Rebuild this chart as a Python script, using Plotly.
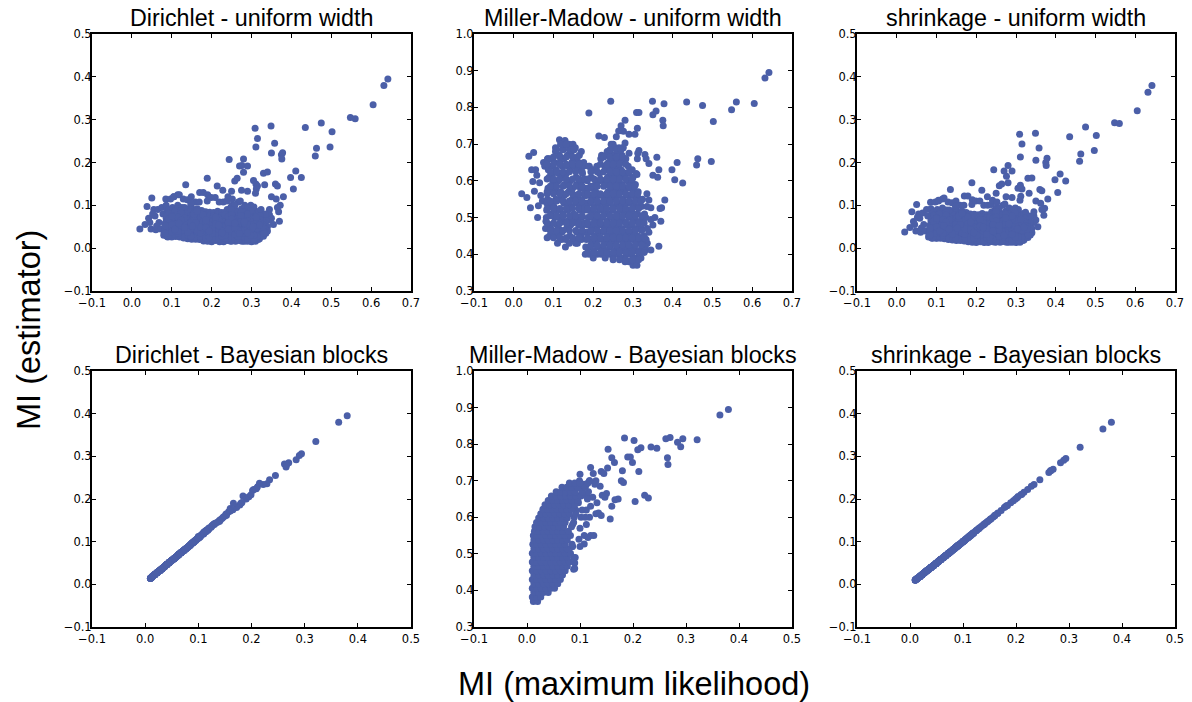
import plotly.graph_objects as go

# ---------------- data: uniform-width binning (top row) ----------------
# sparse points: x = MI (maximum likelihood), then each estimator
x_uw_sparse = [0.642, 0.632, 0.605, 0.548, 0.560, 0.475, 0.502, 0.497, 0.435, 0.463,
               0.460, 0.425, 0.411, 0.405, 0.398, 0.349, 0.309, 0.315, 0.311, 0.358,
               0.350, 0.375, 0.378, 0.376, 0.280, 0.244, 0.270, 0.276, 0.290, 0.280,
               0.330, 0.340, 0.189, 0.258, 0.264, 0.305, 0.311, 0.315, 0.333, 0.360,
               0.365, 0.135, 0.214, 0.228, 0.250, 0.275, 0.290, 0.312, 0.310, 0.350,
               0.380, 0.362, 0.372, 0.368, 0.370, 0.345, 0.190, 0.170, 0.115, 0.105,
               0.020, 0.033, 0.038, 0.042, 0.050, 0.048, 0.055, 0.060, 0.058, 0.065,
               0.068, 0.075, 0.085, 0.088, 0.045, 0.052, 0.062, 0.072, 0.078,
               0.335, 0.340, 0.350, 0.340, 0.365, 0.345, 0.336, 0.355, 0.345]
dir_uw_sparse = [0.395, 0.380, 0.335, 0.305, 0.302, 0.292, 0.272, 0.236, 0.282, 0.233,
                 0.215, 0.165, 0.180, 0.138, 0.165, 0.285, 0.280, 0.256, 0.236, 0.245,
                 0.222, 0.218, 0.223, 0.208, 0.208, 0.207, 0.192, 0.193, 0.192, 0.177,
                 0.175, 0.178, 0.163, 0.157, 0.163, 0.158, 0.150, 0.145, 0.148, 0.150,
                 0.145, 0.148, 0.145, 0.135, 0.133, 0.135, 0.133, 0.138, 0.128, 0.120,
                 0.120, 0.115, 0.100, 0.085, 0.063, 0.078, 0.125, 0.130, 0.125, 0.120,
                 0.045, 0.055, 0.097, 0.070, 0.117, 0.045, 0.090, 0.043, 0.075, 0.090,
                 0.060, 0.095, 0.115, 0.028, 0.060, 0.080, 0.052, 0.045, 0.080,
                 0.060, 0.050, 0.070, 0.040, 0.095, 0.090, 0.035, 0.055, 0.065]
mm_uw_sparse = [0.895, 0.880, 0.811, 0.794, 0.815, 0.805, 0.762, 0.653, 0.815, 0.660,
                0.643, 0.594, 0.650, 0.603, 0.630, 0.817, 0.786, 0.786, 0.743, 0.790,
                0.780, 0.765, 0.810, 0.750, 0.765, 0.817, 0.750, 0.735, 0.727, 0.703,
                0.672, 0.647, 0.785, 0.720, 0.736, 0.727, 0.660, 0.683, 0.660, 0.664,
                0.630, 0.700, 0.722, 0.718, 0.700, 0.690, 0.675, 0.675, 0.617, 0.615,
                0.548, 0.610, 0.527, 0.525, 0.490, 0.495, 0.640, 0.680, 0.712, 0.690,
                0.565, 0.555, 0.667, 0.527, 0.677, 0.598, 0.630, 0.500, 0.615, 0.595,
                0.560, 0.650, 0.660, 0.470, 0.630, 0.572, 0.532, 0.545, 0.640,
                0.565, 0.548, 0.480, 0.460, 0.422, 0.412, 0.430, 0.500, 0.527]
sh_uw_sparse = [0.380, 0.364, 0.321, 0.293, 0.291, 0.283, 0.263, 0.228, 0.260, 0.220,
                0.203, 0.157, 0.173, 0.130, 0.160, 0.268, 0.266, 0.243, 0.213, 0.234,
                0.205, 0.200, 0.210, 0.193, 0.193, 0.183, 0.180, 0.168, 0.180, 0.153,
                0.163, 0.164, 0.153, 0.146, 0.150, 0.140, 0.147, 0.138, 0.128, 0.137,
                0.134, 0.137, 0.135, 0.120, 0.128, 0.120, 0.118, 0.121, 0.112, 0.110,
                0.115, 0.105, 0.093, 0.090, 0.077, 0.075, 0.113, 0.122, 0.115, 0.110,
                0.038, 0.048, 0.085, 0.062, 0.102, 0.040, 0.080, 0.037, 0.070, 0.082,
                0.055, 0.090, 0.107, 0.024, 0.055, 0.072, 0.047, 0.040, 0.075,
                0.055, 0.046, 0.066, 0.036, 0.090, 0.085, 0.031, 0.050, 0.060]

# dense cluster, column by column
x_uw_dense = [
    0.080, 0.083, 0.086, 0.088, 0.082, 0.085, 0.089, 0.081, 0.084, 0.087, 0.083, 0.086,
    0.090, 0.093, 0.096, 0.098, 0.092, 0.095, 0.099, 0.091, 0.094, 0.097, 0.093, 0.096,
    0.100, 0.103, 0.106, 0.108, 0.102, 0.105, 0.109, 0.101, 0.104, 0.107, 0.103, 0.106,
    0.110, 0.113, 0.116, 0.118, 0.112, 0.115, 0.119, 0.111, 0.114, 0.117, 0.113, 0.116,
    0.120, 0.123, 0.126, 0.128, 0.122, 0.125, 0.129, 0.121, 0.124, 0.127, 0.123, 0.126,
    0.130, 0.133, 0.136, 0.138, 0.132, 0.135, 0.139, 0.131, 0.134, 0.137, 0.133, 0.136,
    0.140, 0.143, 0.146, 0.148, 0.142, 0.145, 0.149, 0.141, 0.144, 0.147, 0.143, 0.146,
    0.150, 0.153, 0.156, 0.158, 0.152, 0.155, 0.159, 0.151, 0.154, 0.157, 0.153, 0.156,
    0.160, 0.163, 0.166, 0.168, 0.162, 0.165, 0.169, 0.161, 0.164, 0.167, 0.163, 0.166,
    0.170, 0.173, 0.176, 0.178, 0.172, 0.175, 0.179, 0.171, 0.174, 0.177, 0.173, 0.176,
    0.180, 0.183, 0.186, 0.188, 0.182, 0.185, 0.189, 0.181, 0.184, 0.187, 0.183, 0.186,
    0.190, 0.193, 0.196, 0.198, 0.192, 0.195, 0.199, 0.191, 0.194, 0.197, 0.193, 0.196,
    0.200, 0.203, 0.206, 0.208, 0.202, 0.205, 0.209, 0.201, 0.204, 0.207, 0.203, 0.206,
    0.210, 0.213, 0.216, 0.218, 0.212, 0.215, 0.219, 0.211, 0.214, 0.217, 0.213, 0.216,
    0.220, 0.223, 0.226, 0.228, 0.222, 0.225, 0.229, 0.221, 0.224, 0.227, 0.223, 0.226,
    0.230, 0.233, 0.236, 0.238, 0.232, 0.235, 0.239, 0.231, 0.234, 0.237, 0.233, 0.236, 0.230, 0.238, 0.232, 0.235,
    0.240, 0.243, 0.246, 0.248, 0.242, 0.245, 0.249, 0.241, 0.244, 0.247, 0.243, 0.246, 0.240, 0.248, 0.242, 0.245,
    0.250, 0.253, 0.256, 0.258, 0.252, 0.255, 0.259, 0.251, 0.254, 0.257, 0.253, 0.256, 0.250, 0.258, 0.252, 0.255,
    0.260, 0.263, 0.266, 0.268, 0.262, 0.265, 0.269, 0.261, 0.264, 0.267, 0.263, 0.266, 0.260, 0.268, 0.262, 0.265,
    0.270, 0.273, 0.276, 0.278, 0.272, 0.275, 0.279, 0.271, 0.274, 0.277, 0.273, 0.276, 0.270, 0.278, 0.272, 0.275,
    0.280, 0.283, 0.286, 0.288, 0.282, 0.285, 0.289, 0.281, 0.284, 0.287, 0.283, 0.286, 0.280, 0.288, 0.282, 0.285,
    0.290, 0.293, 0.296, 0.298, 0.292, 0.295, 0.299, 0.291, 0.294, 0.297, 0.293, 0.296, 0.290, 0.298, 0.292, 0.295,
    0.300, 0.303, 0.306, 0.308, 0.302, 0.305, 0.309, 0.301, 0.304, 0.307, 0.303, 0.306, 0.300, 0.308, 0.302, 0.305,
    0.310, 0.313, 0.316, 0.318, 0.312, 0.315, 0.319, 0.311, 0.314, 0.317, 0.313, 0.316,
    0.320, 0.323, 0.326, 0.328, 0.322, 0.325, 0.329, 0.321, 0.324, 0.327,
    0.330, 0.333, 0.336, 0.332, 0.335, 0.331]
mm_uw_dense = [
    0.47, 0.52, 0.58, 0.64, 0.50, 0.55, 0.61, 0.49, 0.57, 0.63, 0.54, 0.66,
    0.45, 0.51, 0.57, 0.62, 0.48, 0.54, 0.60, 0.66, 0.53, 0.59, 0.47, 0.64,
    0.46, 0.50, 0.55, 0.60, 0.65, 0.68, 0.48, 0.53, 0.58, 0.63, 0.52, 0.57,
    0.43, 0.47, 0.52, 0.57, 0.62, 0.67, 0.70, 0.45, 0.50, 0.55, 0.60, 0.65,
    0.44, 0.49, 0.54, 0.59, 0.64, 0.69, 0.71, 0.46, 0.51, 0.56, 0.61, 0.66,
    0.42, 0.47, 0.52, 0.57, 0.62, 0.67, 0.70, 0.44, 0.49, 0.54, 0.59, 0.64,
    0.43, 0.48, 0.53, 0.58, 0.63, 0.68, 0.70, 0.45, 0.50, 0.55, 0.60, 0.65,
    0.44, 0.49, 0.54, 0.59, 0.64, 0.69, 0.46, 0.51, 0.56, 0.61, 0.66, 0.43,
    0.43, 0.48, 0.53, 0.58, 0.63, 0.67, 0.45, 0.50, 0.55, 0.60, 0.65, 0.52,
    0.44, 0.48, 0.52, 0.56, 0.60, 0.64, 0.46, 0.50, 0.54, 0.58, 0.62, 0.65,
    0.40, 0.44, 0.48, 0.52, 0.56, 0.60, 0.64, 0.42, 0.46, 0.50, 0.54, 0.58,
    0.40, 0.44, 0.48, 0.52, 0.56, 0.61, 0.63, 0.42, 0.46, 0.50, 0.54, 0.58,
    0.39, 0.43, 0.47, 0.51, 0.55, 0.59, 0.64, 0.41, 0.45, 0.49, 0.53, 0.57,
    0.40, 0.44, 0.48, 0.52, 0.56, 0.60, 0.66, 0.42, 0.46, 0.50, 0.54, 0.62,
    0.40, 0.44, 0.48, 0.52, 0.56, 0.60, 0.64, 0.67, 0.42, 0.46, 0.50, 0.54,
    0.39, 0.41, 0.43, 0.45, 0.47, 0.49, 0.51, 0.53, 0.55, 0.57, 0.59, 0.61, 0.63, 0.65, 0.67, 0.68,
    0.40, 0.42, 0.44, 0.46, 0.48, 0.50, 0.52, 0.54, 0.56, 0.58, 0.60, 0.62, 0.64, 0.66, 0.68, 0.70,
    0.39, 0.41, 0.43, 0.45, 0.47, 0.49, 0.51, 0.53, 0.55, 0.57, 0.59, 0.61, 0.63, 0.65, 0.67, 0.69,
    0.40, 0.42, 0.44, 0.46, 0.48, 0.50, 0.52, 0.54, 0.56, 0.58, 0.60, 0.62, 0.64, 0.66, 0.68, 0.69,
    0.39, 0.41, 0.43, 0.45, 0.47, 0.49, 0.51, 0.53, 0.55, 0.57, 0.59, 0.61, 0.63, 0.65, 0.67, 0.69,
    0.38, 0.40, 0.42, 0.44, 0.46, 0.48, 0.50, 0.52, 0.54, 0.56, 0.58, 0.60, 0.62, 0.64, 0.66, 0.43,
    0.38, 0.40, 0.42, 0.44, 0.46, 0.48, 0.50, 0.52, 0.54, 0.56, 0.58, 0.60, 0.62, 0.63, 0.41, 0.45,
    0.37, 0.39, 0.41, 0.43, 0.45, 0.47, 0.49, 0.51, 0.53, 0.55, 0.57, 0.59, 0.61, 0.62, 0.38, 0.44,
    0.37, 0.39, 0.41, 0.43, 0.45, 0.47, 0.49, 0.51, 0.53, 0.55, 0.57, 0.40,
    0.39, 0.41, 0.43, 0.45, 0.47, 0.49, 0.51, 0.53, 0.55, 0.44,
    0.41, 0.44, 0.47, 0.50, 0.53, 0.42]
dir_uw_dense = [
    0.030, 0.050, 0.070, 0.090, 0.040, 0.060, 0.080, 0.035, 0.055, 0.075, 0.045, 0.100,
    0.026, 0.042, 0.058, 0.074, 0.090, 0.033, 0.050, 0.066, 0.082, 0.115, 0.038, 0.062,
    0.028, 0.045, 0.062, 0.078, 0.095, 0.120, 0.036, 0.053, 0.070, 0.087, 0.032, 0.058,
    0.027, 0.040, 0.055, 0.070, 0.085, 0.100, 0.125, 0.033, 0.048, 0.063, 0.078, 0.092,
    0.026, 0.038, 0.052, 0.066, 0.080, 0.095, 0.115, 0.031, 0.045, 0.059, 0.073, 0.088,
    0.024, 0.036, 0.050, 0.064, 0.078, 0.092, 0.113, 0.030, 0.043, 0.057, 0.071, 0.085,
    0.022, 0.035, 0.049, 0.063, 0.077, 0.091, 0.120, 0.028, 0.042, 0.056, 0.070, 0.084,
    0.021, 0.034, 0.048, 0.062, 0.076, 0.090, 0.108, 0.027, 0.041, 0.055, 0.069, 0.083,
    0.021, 0.033, 0.047, 0.061, 0.075, 0.089, 0.108, 0.027, 0.040, 0.054, 0.068, 0.082,
    0.020, 0.032, 0.046, 0.060, 0.074, 0.088, 0.130, 0.026, 0.039, 0.053, 0.067, 0.081,
    0.017, 0.029, 0.043, 0.057, 0.071, 0.085, 0.110, 0.023, 0.036, 0.050, 0.064, 0.078,
    0.016, 0.028, 0.042, 0.056, 0.070, 0.084, 0.118, 0.022, 0.035, 0.049, 0.063, 0.077,
    0.015, 0.027, 0.041, 0.055, 0.069, 0.083, 0.118, 0.021, 0.034, 0.048, 0.062, 0.076,
    0.018, 0.030, 0.044, 0.058, 0.072, 0.086, 0.108, 0.024, 0.037, 0.051, 0.065, 0.079,
    0.015, 0.027, 0.041, 0.055, 0.069, 0.083, 0.108, 0.021, 0.034, 0.048, 0.062, 0.076,
    0.015, 0.060, 0.030, 0.075, 0.022, 0.050, 0.090, 0.040, 0.068, 0.018, 0.083, 0.035, 0.056, 0.110, 0.026, 0.046,
    0.020, 0.045, 0.070, 0.016, 0.058, 0.085, 0.032, 0.120, 0.064, 0.027, 0.050, 0.078, 0.038, 0.095, 0.018, 0.042,
    0.017, 0.052, 0.036, 0.080, 0.024, 0.066, 0.044, 0.100, 0.060, 0.020, 0.074, 0.030, 0.090, 0.048, 0.115, 0.028,
    0.016, 0.040, 0.064, 0.028, 0.086, 0.050, 0.020, 0.072, 0.034, 0.108, 0.058, 0.024, 0.046, 0.080, 0.038, 0.068,
    0.018, 0.056, 0.030, 0.074, 0.042, 0.092, 0.022, 0.062, 0.036, 0.080, 0.050, 0.016, 0.070, 0.026, 0.110, 0.046,
    0.020, 0.048, 0.034, 0.072, 0.016, 0.060, 0.088, 0.026, 0.054, 0.040, 0.100, 0.066, 0.030, 0.078, 0.044, 0.018,
    0.016, 0.042, 0.064, 0.028, 0.080, 0.050, 0.022, 0.070, 0.036, 0.092, 0.056, 0.018, 0.046, 0.100, 0.032, 0.060,
    0.015, 0.038, 0.058, 0.024, 0.074, 0.046, 0.086, 0.030, 0.064, 0.018, 0.052, 0.096, 0.034, 0.070, 0.020, 0.042,
    0.016, 0.036, 0.054, 0.072, 0.024, 0.046, 0.086, 0.030, 0.062, 0.020, 0.050, 0.040,
    0.022, 0.040, 0.060, 0.078, 0.030, 0.050, 0.070, 0.026, 0.090, 0.044,
    0.028, 0.046, 0.066, 0.038, 0.080, 0.034]
sh_uw_dense = [
    0.026, 0.045, 0.064, 0.085, 0.036, 0.055, 0.074, 0.031, 0.050, 0.069, 0.041, 0.092,
    0.023, 0.038, 0.053, 0.069, 0.085, 0.030, 0.045, 0.061, 0.077, 0.108, 0.034, 0.057,
    0.024, 0.040, 0.057, 0.073, 0.090, 0.112, 0.032, 0.048, 0.065, 0.082, 0.028, 0.053,
    0.023, 0.036, 0.050, 0.065, 0.080, 0.094, 0.117, 0.029, 0.043, 0.058, 0.073, 0.087,
    0.022, 0.034, 0.047, 0.061, 0.075, 0.089, 0.108, 0.027, 0.040, 0.054, 0.068, 0.083,
    0.020, 0.032, 0.045, 0.059, 0.073, 0.087, 0.106, 0.026, 0.038, 0.052, 0.066, 0.080,
    0.019, 0.031, 0.044, 0.058, 0.072, 0.086, 0.110, 0.024, 0.037, 0.051, 0.065, 0.079,
    0.018, 0.030, 0.043, 0.057, 0.071, 0.085, 0.100, 0.023, 0.036, 0.050, 0.064, 0.078,
    0.018, 0.029, 0.042, 0.056, 0.070, 0.084, 0.100, 0.023, 0.035, 0.049, 0.063, 0.077,
    0.017, 0.028, 0.041, 0.055, 0.069, 0.083, 0.122, 0.022, 0.034, 0.048, 0.062, 0.076,
    0.015, 0.025, 0.038, 0.052, 0.066, 0.080, 0.102, 0.020, 0.031, 0.045, 0.059, 0.073,
    0.014, 0.024, 0.037, 0.051, 0.065, 0.079, 0.110, 0.019, 0.030, 0.044, 0.058, 0.072,
    0.013, 0.023, 0.036, 0.050, 0.064, 0.078, 0.110, 0.018, 0.029, 0.043, 0.057, 0.071,
    0.015, 0.026, 0.039, 0.053, 0.067, 0.081, 0.100, 0.021, 0.032, 0.046, 0.060, 0.074,
    0.013, 0.023, 0.036, 0.050, 0.064, 0.078, 0.100, 0.018, 0.029, 0.043, 0.057, 0.071,
    0.013, 0.055, 0.026, 0.070, 0.019, 0.045, 0.085, 0.036, 0.063, 0.016, 0.078, 0.031, 0.051, 0.102, 0.023, 0.041,
    0.017, 0.040, 0.065, 0.014, 0.053, 0.080, 0.028, 0.112, 0.059, 0.024, 0.045, 0.073, 0.034, 0.090, 0.015, 0.038,
    0.015, 0.047, 0.032, 0.075, 0.021, 0.061, 0.040, 0.094, 0.055, 0.017, 0.069, 0.026, 0.085, 0.043, 0.108, 0.024,
    0.014, 0.036, 0.059, 0.025, 0.081, 0.045, 0.017, 0.067, 0.030, 0.100, 0.053, 0.021, 0.041, 0.075, 0.034, 0.063,
    0.016, 0.051, 0.027, 0.069, 0.038, 0.087, 0.019, 0.057, 0.032, 0.075, 0.045, 0.014, 0.065, 0.023, 0.103, 0.041,
    0.017, 0.043, 0.030, 0.067, 0.014, 0.055, 0.083, 0.023, 0.049, 0.036, 0.094, 0.061, 0.026, 0.073, 0.039, 0.016,
    0.014, 0.038, 0.059, 0.025, 0.075, 0.045, 0.019, 0.065, 0.032, 0.087, 0.051, 0.016, 0.041, 0.094, 0.028, 0.055,
    0.013, 0.034, 0.053, 0.021, 0.069, 0.041, 0.081, 0.026, 0.059, 0.016, 0.047, 0.090, 0.030, 0.065, 0.018, 0.038,
    0.014, 0.032, 0.049, 0.067, 0.021, 0.041, 0.081, 0.026, 0.057, 0.018, 0.045, 0.036,
    0.019, 0.036, 0.055, 0.073, 0.027, 0.045, 0.065, 0.023, 0.084, 0.039,
    0.025, 0.042, 0.061, 0.034, 0.075, 0.030]

# second layer of the cluster, row by row (rows of roughly equal Miller-Madow value)
x_uw_rows = [
    0.084, 0.100, 0.116, 0.132, 0.148, 0.164,
    0.092, 0.108, 0.124, 0.140, 0.156, 0.172,
    0.084, 0.100, 0.116, 0.132, 0.148, 0.164, 0.178,
    0.092, 0.108, 0.124, 0.140, 0.156, 0.172,
    0.084, 0.100, 0.116, 0.132, 0.148, 0.164, 0.178,
    0.092, 0.108, 0.124, 0.140, 0.156, 0.172,
    0.084, 0.100, 0.116, 0.132, 0.148, 0.164, 0.178,
    0.092, 0.108, 0.124, 0.140, 0.156, 0.172,
    0.084, 0.100, 0.116, 0.132, 0.148, 0.164, 0.178,
    0.092, 0.108, 0.124, 0.140, 0.156, 0.172,
    0.084, 0.100, 0.116, 0.132, 0.148, 0.164,
    0.100, 0.116, 0.132, 0.148, 0.160,
    0.108, 0.124, 0.140, 0.152,
    0.118, 0.132,
    0.250, 0.266, 0.282, 0.298, 0.314,
    0.186, 0.202, 0.218, 0.234, 0.250, 0.266, 0.282, 0.298, 0.314, 0.328,
    0.194, 0.210, 0.226, 0.242, 0.258, 0.274, 0.290, 0.306, 0.322,
    0.186, 0.202, 0.218, 0.234, 0.250, 0.266, 0.282, 0.298, 0.314, 0.328,
    0.194, 0.210, 0.226, 0.242, 0.258, 0.274, 0.290, 0.306, 0.322,
    0.186, 0.202, 0.218, 0.234, 0.250, 0.266, 0.282, 0.298, 0.314, 0.328,
    0.194, 0.210, 0.226, 0.242, 0.258, 0.274, 0.290, 0.306, 0.322,
    0.186, 0.202, 0.218, 0.234, 0.250, 0.266, 0.282, 0.298, 0.314,
    0.194, 0.210, 0.226, 0.242, 0.258, 0.274, 0.290, 0.306, 0.320,
    0.186, 0.202, 0.218, 0.234, 0.250, 0.266, 0.282, 0.298, 0.312,
    0.194, 0.210, 0.226, 0.242, 0.258, 0.274, 0.290, 0.304,
    0.186, 0.202, 0.218, 0.234, 0.250, 0.266, 0.282, 0.298,
    0.194, 0.210, 0.226, 0.242, 0.258, 0.274, 0.290,
    0.218, 0.234, 0.250, 0.266, 0.282,
    0.226, 0.242, 0.258, 0.274,
    0.242, 0.258, 0.270]
mm_uw_rows = [
    0.445, 0.445, 0.445, 0.445, 0.445, 0.445,
    0.465, 0.465, 0.465, 0.465, 0.465, 0.465,
    0.485, 0.485, 0.485, 0.485, 0.485, 0.485, 0.485,
    0.505, 0.505, 0.505, 0.505, 0.505, 0.505,
    0.525, 0.525, 0.525, 0.525, 0.525, 0.525, 0.525,
    0.545, 0.545, 0.545, 0.545, 0.545, 0.545,
    0.565, 0.565, 0.565, 0.565, 0.565, 0.565, 0.565,
    0.585, 0.585, 0.585, 0.585, 0.585, 0.585,
    0.605, 0.605, 0.605, 0.605, 0.605, 0.605, 0.605,
    0.625, 0.625, 0.625, 0.625, 0.625, 0.625,
    0.645, 0.645, 0.645, 0.645, 0.645, 0.645,
    0.665, 0.665, 0.665, 0.665, 0.665,
    0.685, 0.685, 0.685, 0.685,
    0.700, 0.700,
    0.385, 0.385, 0.385, 0.385, 0.385,
    0.405, 0.405, 0.405, 0.405, 0.405, 0.405, 0.405, 0.405, 0.405, 0.405,
    0.425, 0.425, 0.425, 0.425, 0.425, 0.425, 0.425, 0.425, 0.425,
    0.445, 0.445, 0.445, 0.445, 0.445, 0.445, 0.445, 0.445, 0.445, 0.445,
    0.465, 0.465, 0.465, 0.465, 0.465, 0.465, 0.465, 0.465, 0.465,
    0.485, 0.485, 0.485, 0.485, 0.485, 0.485, 0.485, 0.485, 0.485, 0.485,
    0.505, 0.505, 0.505, 0.505, 0.505, 0.505, 0.505, 0.505, 0.505,
    0.525, 0.525, 0.525, 0.525, 0.525, 0.525, 0.525, 0.525, 0.525,
    0.545, 0.545, 0.545, 0.545, 0.545, 0.545, 0.545, 0.545, 0.545,
    0.565, 0.565, 0.565, 0.565, 0.565, 0.565, 0.565, 0.565, 0.565,
    0.585, 0.585, 0.585, 0.585, 0.585, 0.585, 0.585, 0.585,
    0.605, 0.605, 0.605, 0.605, 0.605, 0.605, 0.605, 0.605,
    0.625, 0.625, 0.625, 0.625, 0.625, 0.625, 0.625,
    0.645, 0.645, 0.645, 0.645, 0.645,
    0.665, 0.665, 0.665, 0.665,
    0.685, 0.685, 0.685]
dir_uw_rows = [
    0.035, 0.062, 0.048, 0.080, 0.028, 0.055,
    0.042, 0.070, 0.030, 0.090, 0.052, 0.038,
    0.058, 0.026, 0.075, 0.044, 0.100, 0.033, 0.066,
    0.050, 0.085, 0.036, 0.060, 0.024, 0.072,
    0.040, 0.068, 0.029, 0.095, 0.054, 0.046, 0.078,
    0.064, 0.032, 0.088, 0.048, 0.070, 0.027,
    0.045, 0.076, 0.034, 0.058, 0.105, 0.040, 0.062,
    0.030, 0.056, 0.082, 0.043, 0.067, 0.036,
    0.052, 0.038, 0.072, 0.026, 0.060, 0.092, 0.047,
    0.068, 0.041, 0.057, 0.031, 0.080, 0.050,
    0.035, 0.074, 0.049, 0.063, 0.028, 0.086,
    0.055, 0.039, 0.070, 0.046, 0.060,
    0.044, 0.066, 0.037, 0.052,
    0.058, 0.048,
    0.020, 0.045, 0.032, 0.060, 0.026,
    0.018, 0.050, 0.035, 0.072, 0.024, 0.058, 0.040, 0.085, 0.028, 0.064,
    0.046, 0.022, 0.068, 0.036, 0.090, 0.030, 0.055, 0.019, 0.075,
    0.030, 0.062, 0.020, 0.048, 0.080, 0.038, 0.026, 0.070, 0.044, 0.056,
    0.054, 0.034, 0.076, 0.021, 0.060, 0.042, 0.095, 0.028, 0.066,
    0.024, 0.046, 0.070, 0.032, 0.058, 0.019, 0.084, 0.040, 0.064, 0.050,
    0.038, 0.066, 0.026, 0.052, 0.100, 0.034, 0.072, 0.022, 0.058,
    0.060, 0.028, 0.044, 0.078, 0.020, 0.054, 0.036, 0.088, 0.046,
    0.032, 0.070, 0.050, 0.024, 0.062, 0.040, 0.080, 0.030, 0.054,
    0.048, 0.022, 0.064, 0.036, 0.090, 0.028, 0.058, 0.042, 0.072,
    0.026, 0.056, 0.040, 0.074, 0.032, 0.062, 0.020, 0.050,
    0.066, 0.034, 0.052, 0.024, 0.078, 0.044, 0.060, 0.030,
    0.040, 0.072, 0.028, 0.058, 0.046, 0.084, 0.036,
    0.054, 0.030, 0.068, 0.042, 0.062,
    0.036, 0.060, 0.048, 0.076,
    0.044, 0.058, 0.034]
sh_uw_rows = [
    0.031, 0.057, 0.044, 0.075, 0.024, 0.050,
    0.038, 0.065, 0.026, 0.085, 0.047, 0.034,
    0.053, 0.023, 0.070, 0.040, 0.094, 0.029, 0.061,
    0.045, 0.080, 0.032, 0.055, 0.021, 0.067,
    0.036, 0.063, 0.025, 0.089, 0.049, 0.042, 0.073,
    0.059, 0.028, 0.083, 0.044, 0.065, 0.024,
    0.041, 0.071, 0.030, 0.053, 0.098, 0.036, 0.057,
    0.026, 0.051, 0.077, 0.039, 0.062, 0.032,
    0.047, 0.034, 0.067, 0.023, 0.055, 0.087, 0.043,
    0.063, 0.037, 0.052, 0.027, 0.075, 0.045,
    0.031, 0.069, 0.045, 0.058, 0.024, 0.081,
    0.050, 0.035, 0.065, 0.042, 0.055,
    0.040, 0.061, 0.033, 0.047,
    0.053, 0.044,
    0.017, 0.040, 0.028, 0.055, 0.023,
    0.016, 0.045, 0.031, 0.067, 0.021, 0.053, 0.036, 0.080, 0.025, 0.059,
    0.041, 0.019, 0.063, 0.032, 0.085, 0.026, 0.050, 0.016, 0.070,
    0.026, 0.057, 0.017, 0.043, 0.075, 0.034, 0.023, 0.065, 0.040, 0.051,
    0.049, 0.030, 0.071, 0.018, 0.055, 0.038, 0.089, 0.025, 0.061,
    0.021, 0.041, 0.065, 0.028, 0.053, 0.016, 0.079, 0.036, 0.059, 0.045,
    0.034, 0.061, 0.023, 0.047, 0.094, 0.030, 0.067, 0.019, 0.053,
    0.055, 0.025, 0.040, 0.073, 0.017, 0.049, 0.032, 0.083, 0.041,
    0.028, 0.065, 0.045, 0.021, 0.057, 0.036, 0.075, 0.026, 0.049,
    0.043, 0.019, 0.059, 0.032, 0.085, 0.025, 0.053, 0.038, 0.067,
    0.023, 0.051, 0.036, 0.069, 0.028, 0.057, 0.017, 0.045,
    0.061, 0.030, 0.047, 0.021, 0.073, 0.040, 0.055, 0.026,
    0.036, 0.067, 0.025, 0.053, 0.042, 0.079, 0.032,
    0.049, 0.026, 0.063, 0.038, 0.057,
    0.032, 0.055, 0.043, 0.071,
    0.040, 0.053, 0.030]

# ---------------- data: Bayesian-blocks binning (bottom row) ----------------
x_bb_sparse = [0.380, 0.364, 0.321, 0.294, 0.290, 0.284, 0.270, 0.262, 0.265, 0.266,
               0.245, 0.234, 0.229, 0.222, 0.204, 0.211, 0.215, 0.209, 0.202, 0.184,
               0.190, 0.195, 0.199, 0.180, 0.178, 0.182, 0.172, 0.166, 0.160, 0.157,
               0.165, 0.160, 0.153, 0.152, 0.140, 0.145, 0.120, 0.130, 0.138, 0.142,
               0.150, 0.147, 0.125, 0.120, 0.126, 0.115, 0.108, 0.130, 0.140, 0.135,
               0.100, 0.088, 0.086, 0.091, 0.090, 0.118, 0.128, 0.110, 0.105, 0.113,
               0.124, 0.132, 0.118, 0.112, 0.100,
               0.090, 0.088, 0.085, 0.086, 0.089, 0.092, 0.087, 0.090, 0.093, 0.095,
               0.098, 0.100, 0.102, 0.104, 0.097, 0.101, 0.103, 0.099, 0.106,
               0.108, 0.110, 0.112, 0.114, 0.116, 0.112, 0.118, 0.120]
dir_bb_sparse = [0.395, 0.380, 0.335, 0.306, 0.302, 0.292, 0.285, 0.282, 0.275, 0.280,
                 0.255, 0.245, 0.236, 0.234, 0.222, 0.228, 0.237, 0.224, 0.220, 0.207,
                 0.200, 0.205, 0.210, 0.190, 0.186, 0.192, 0.180, 0.190, 0.178, 0.170,
                 0.175, 0.172, 0.162, 0.165, 0.150, 0.155, 0.132, 0.142, 0.147, 0.152,
                 0.160, 0.158, 0.136, 0.130, 0.138, 0.127, 0.118, 0.140, 0.148, 0.145,
                 0.112, 0.096, 0.094, 0.100, 0.098, 0.128, 0.140, 0.122, 0.115, 0.124,
                 0.134, 0.143, 0.127, 0.124, 0.110,
                 0.098, 0.096, 0.093, 0.094, 0.097, 0.100, 0.095, 0.098, 0.102, 0.104,
                 0.107, 0.109, 0.111, 0.113, 0.106, 0.110, 0.112, 0.108, 0.116,
                 0.118, 0.120, 0.122, 0.125, 0.127, 0.122, 0.129, 0.131]
mm_bb_sparse = [0.895, 0.880, 0.812, 0.815, 0.793, 0.805, 0.818, 0.815, 0.763, 0.744,
                0.789, 0.792, 0.653, 0.660, 0.643, 0.725, 0.790, 0.785, 0.810, 0.817,
                0.765, 0.765, 0.750, 0.727, 0.700, 0.695, 0.650, 0.648, 0.630, 0.595,
                0.750, 0.763, 0.786, 0.735, 0.725, 0.720, 0.736, 0.700, 0.685, 0.660,
                0.665, 0.655, 0.720, 0.550, 0.550, 0.545, 0.527, 0.610, 0.605, 0.612,
                0.718, 0.458, 0.520, 0.490, 0.475, 0.700, 0.690, 0.690, 0.680, 0.660,
                0.655, 0.640, 0.600, 0.580, 0.520,
                0.46, 0.49, 0.52, 0.58, 0.60, 0.62, 0.64, 0.66, 0.68, 0.69,
                0.54, 0.57, 0.60, 0.62, 0.64, 0.66, 0.68, 0.70, 0.69,
                0.55, 0.60, 0.62, 0.65, 0.67, 0.69, 0.70, 0.63]
sh_bb_sparse = [0.380, 0.364, 0.321, 0.295, 0.291, 0.285, 0.270, 0.262, 0.266, 0.267,
                0.245, 0.234, 0.230, 0.222, 0.206, 0.211, 0.216, 0.210, 0.203, 0.185,
                0.191, 0.196, 0.200, 0.182, 0.180, 0.184, 0.173, 0.167, 0.161, 0.158,
                0.166, 0.162, 0.154, 0.153, 0.141, 0.146, 0.121, 0.131, 0.139, 0.143,
                0.151, 0.148, 0.126, 0.121, 0.127, 0.116, 0.109, 0.131, 0.141, 0.136,
                0.101, 0.089, 0.087, 0.092, 0.091, 0.119, 0.129, 0.111, 0.106, 0.114,
                0.125, 0.133, 0.119, 0.113, 0.101,
                0.090, 0.088, 0.085, 0.086, 0.089, 0.092, 0.087, 0.090, 0.093, 0.095,
                0.098, 0.100, 0.102, 0.104, 0.097, 0.101, 0.103, 0.099, 0.106,
                0.108, 0.110, 0.112, 0.114, 0.116, 0.112, 0.118, 0.120]

# dense cluster of the Bayesian-blocks row, row by row (rows of roughly equal Miller-Madow value)
x_bb_rows = [
    0.012, 0.020,
    0.010, 0.018, 0.026,
    0.013, 0.022, 0.031, 0.040,
    0.010, 0.018, 0.027, 0.036, 0.045, 0.052,
    0.013, 0.022, 0.031, 0.040, 0.049, 0.058,
    0.010, 0.018, 0.027, 0.036, 0.045, 0.054, 0.063,
    0.013, 0.022, 0.031, 0.040, 0.049, 0.058, 0.067,
    0.010, 0.018, 0.027, 0.036, 0.045, 0.054, 0.063, 0.072,
    0.013, 0.022, 0.031, 0.040, 0.049, 0.058, 0.067, 0.076,
    0.010, 0.018, 0.027, 0.036, 0.045, 0.054, 0.063, 0.072, 0.080,
    0.013, 0.022, 0.031, 0.040, 0.049, 0.058, 0.067, 0.076,
    0.010, 0.018, 0.027, 0.036, 0.045, 0.054, 0.063, 0.072, 0.082,
    0.013, 0.022, 0.031, 0.040, 0.049, 0.058, 0.067, 0.076,
    0.011, 0.018, 0.027, 0.036, 0.045, 0.054, 0.063, 0.072, 0.085,
    0.013, 0.022, 0.031, 0.040, 0.049, 0.058, 0.067, 0.076,
    0.012, 0.018, 0.027, 0.036, 0.045, 0.054, 0.063, 0.072, 0.082,
    0.014, 0.022, 0.031, 0.040, 0.049, 0.058, 0.067, 0.078,
    0.015, 0.024, 0.033, 0.042, 0.051, 0.060, 0.069, 0.084,
    0.018, 0.027, 0.036, 0.045, 0.054, 0.063, 0.072, 0.088,
    0.022, 0.031, 0.040, 0.049, 0.058, 0.067, 0.076,
    0.026, 0.035, 0.044, 0.053, 0.062, 0.071, 0.080, 0.092,
    0.030, 0.039, 0.048, 0.057, 0.066, 0.075, 0.084,
    0.034, 0.043, 0.052, 0.061, 0.070, 0.079, 0.090,
    0.040, 0.049, 0.058, 0.067, 0.076, 0.085, 0.096,
    0.046, 0.055, 0.064, 0.073, 0.082, 0.092, 0.102,
    0.055, 0.064, 0.073, 0.082, 0.091, 0.104,
    0.066, 0.075, 0.084, 0.095, 0.110,
    0.080, 0.090, 0.100, 0.115]
mm_bb_rows = [
    0.370, 0.370,
    0.382, 0.382, 0.382,
    0.394, 0.394, 0.394, 0.394,
    0.406, 0.406, 0.406, 0.406, 0.406, 0.406,
    0.418, 0.418, 0.418, 0.418, 0.418, 0.418,
    0.430, 0.430, 0.430, 0.430, 0.430, 0.430, 0.430,
    0.442, 0.442, 0.442, 0.442, 0.442, 0.442, 0.442,
    0.454, 0.454, 0.454, 0.454, 0.454, 0.454, 0.454, 0.454,
    0.466, 0.466, 0.466, 0.466, 0.466, 0.466, 0.466, 0.466,
    0.478, 0.478, 0.478, 0.478, 0.478, 0.478, 0.478, 0.478, 0.478,
    0.490, 0.490, 0.490, 0.490, 0.490, 0.490, 0.490, 0.490,
    0.502, 0.502, 0.502, 0.502, 0.502, 0.502, 0.502, 0.502, 0.502,
    0.514, 0.514, 0.514, 0.514, 0.514, 0.514, 0.514, 0.514,
    0.526, 0.526, 0.526, 0.526, 0.526, 0.526, 0.526, 0.526, 0.526,
    0.538, 0.538, 0.538, 0.538, 0.538, 0.538, 0.538, 0.538,
    0.550, 0.550, 0.550, 0.550, 0.550, 0.550, 0.550, 0.550, 0.550,
    0.562, 0.562, 0.562, 0.562, 0.562, 0.562, 0.562, 0.562,
    0.574, 0.574, 0.574, 0.574, 0.574, 0.574, 0.574, 0.574,
    0.586, 0.586, 0.586, 0.586, 0.586, 0.586, 0.586, 0.586,
    0.598, 0.598, 0.598, 0.598, 0.598, 0.598, 0.598,
    0.610, 0.610, 0.610, 0.610, 0.610, 0.610, 0.610, 0.610,
    0.622, 0.622, 0.622, 0.622, 0.622, 0.622, 0.622,
    0.634, 0.634, 0.634, 0.634, 0.634, 0.634, 0.634,
    0.646, 0.646, 0.646, 0.646, 0.646, 0.646, 0.646,
    0.658, 0.658, 0.658, 0.658, 0.658, 0.658, 0.658,
    0.670, 0.670, 0.670, 0.670, 0.670, 0.670,
    0.682, 0.682, 0.682, 0.682, 0.682,
    0.694, 0.694, 0.694, 0.694]
dir_bb_rows = [
    0.017, 0.025,
    0.014, 0.023, 0.031,
    0.018, 0.027, 0.036, 0.046,
    0.014, 0.023, 0.032, 0.041, 0.051, 0.058,
    0.018, 0.027, 0.036, 0.046, 0.055, 0.064,
    0.014, 0.023, 0.032, 0.041, 0.051, 0.060, 0.070,
    0.018, 0.027, 0.036, 0.046, 0.055, 0.064, 0.074,
    0.014, 0.023, 0.032, 0.041, 0.051, 0.060, 0.070, 0.079,
    0.018, 0.027, 0.036, 0.046, 0.055, 0.064, 0.074, 0.083,
    0.014, 0.023, 0.032, 0.041, 0.051, 0.060, 0.070, 0.079, 0.087,
    0.018, 0.027, 0.036, 0.046, 0.055, 0.064, 0.074, 0.083,
    0.014, 0.023, 0.032, 0.041, 0.051, 0.060, 0.070, 0.079, 0.089,
    0.018, 0.027, 0.036, 0.046, 0.055, 0.064, 0.074, 0.083,
    0.015, 0.023, 0.032, 0.041, 0.051, 0.060, 0.070, 0.079, 0.092,
    0.018, 0.027, 0.036, 0.046, 0.055, 0.064, 0.074, 0.083,
    0.016, 0.023, 0.032, 0.041, 0.051, 0.060, 0.070, 0.079, 0.089,
    0.019, 0.027, 0.036, 0.046, 0.055, 0.064, 0.074, 0.085,
    0.020, 0.029, 0.038, 0.047, 0.057, 0.066, 0.076, 0.091,
    0.023, 0.032, 0.041, 0.051, 0.060, 0.070, 0.079, 0.096,
    0.027, 0.036, 0.046, 0.055, 0.064, 0.074, 0.083,
    0.031, 0.040, 0.050, 0.059, 0.068, 0.078, 0.087, 0.100,
    0.035, 0.045, 0.054, 0.063, 0.073, 0.082, 0.091,
    0.039, 0.049, 0.058, 0.067, 0.077, 0.086, 0.098,
    0.046, 0.055, 0.064, 0.074, 0.083, 0.092, 0.104,
    0.052, 0.061, 0.071, 0.080, 0.089, 0.100, 0.110,
    0.061, 0.071, 0.080, 0.089, 0.099, 0.112,
    0.073, 0.082, 0.091, 0.103, 0.118,
    0.087, 0.098, 0.108, 0.124]
sh_bb_rows = [
    0.012, 0.020,
    0.010, 0.018, 0.026,
    0.013, 0.022, 0.031, 0.040,
    0.010, 0.018, 0.027, 0.036, 0.045, 0.052,
    0.013, 0.022, 0.031, 0.040, 0.049, 0.058,
    0.010, 0.018, 0.027, 0.036, 0.045, 0.054, 0.063,
    0.013, 0.022, 0.031, 0.040, 0.049, 0.058, 0.067,
    0.010, 0.018, 0.027, 0.036, 0.045, 0.054, 0.063, 0.072,
    0.013, 0.022, 0.031, 0.040, 0.049, 0.058, 0.067, 0.076,
    0.010, 0.018, 0.027, 0.036, 0.045, 0.054, 0.063, 0.072, 0.080,
    0.013, 0.022, 0.031, 0.040, 0.049, 0.058, 0.067, 0.076,
    0.010, 0.018, 0.027, 0.036, 0.045, 0.054, 0.063, 0.072, 0.082,
    0.013, 0.022, 0.031, 0.040, 0.049, 0.058, 0.067, 0.076,
    0.011, 0.018, 0.027, 0.036, 0.045, 0.054, 0.063, 0.072, 0.085,
    0.013, 0.022, 0.031, 0.040, 0.049, 0.058, 0.067, 0.076,
    0.012, 0.018, 0.027, 0.036, 0.045, 0.054, 0.063, 0.072, 0.082,
    0.014, 0.022, 0.031, 0.040, 0.049, 0.058, 0.067, 0.078,
    0.015, 0.024, 0.033, 0.042, 0.051, 0.060, 0.069, 0.084,
    0.018, 0.027, 0.036, 0.045, 0.054, 0.063, 0.072, 0.088,
    0.022, 0.031, 0.040, 0.049, 0.058, 0.067, 0.076,
    0.026, 0.035, 0.044, 0.053, 0.062, 0.071, 0.080, 0.092,
    0.030, 0.039, 0.048, 0.057, 0.066, 0.075, 0.084,
    0.034, 0.043, 0.052, 0.061, 0.070, 0.079, 0.090,
    0.040, 0.049, 0.058, 0.067, 0.076, 0.085, 0.096,
    0.046, 0.055, 0.064, 0.073, 0.082, 0.092, 0.102,
    0.055, 0.064, 0.073, 0.082, 0.091, 0.104,
    0.066, 0.075, 0.084, 0.095, 0.110,
    0.080, 0.090, 0.100, 0.115]

# ---------------- panel titles, ranges, ticks ----------------
titles = ["Dirichlet - uniform width", "Miller-Madow - uniform width", "shrinkage - uniform width",
          "Dirichlet - Bayesian blocks", "Miller-Madow - Bayesian blocks", "shrinkage - Bayesian blocks"]
x_ticks_top = [-0.1, 0.0, 0.1, 0.2, 0.3, 0.4, 0.5, 0.6, 0.7]
x_ticks_bottom = [-0.1, 0.0, 0.1, 0.2, 0.3, 0.4, 0.5]
y_ticks_small = [-0.1, 0.0, 0.1, 0.2, 0.3, 0.4, 0.5]
y_ticks_mm = [0.3, 0.4, 0.5, 0.6, 0.7, 0.8, 0.9, 1.0]
x_label = "MI (maximum likelihood)"
y_label = "MI (estimator)"


def join(*parts):
    out = []
    for p in parts:
        out.extend(p)
    return out


def pair(xs, ys):
    n = min(len(xs), len(ys))
    return xs[:n], ys[:n]


x_top = join(x_uw_sparse, x_uw_dense, x_uw_rows)
x_bot = join(x_bb_sparse, x_bb_rows)
series = [
    pair(x_top, join(dir_uw_sparse, dir_uw_dense, dir_uw_rows)),
    pair(x_top, join(mm_uw_sparse, mm_uw_dense, mm_uw_rows)),
    pair(x_top, join(sh_uw_sparse, sh_uw_dense, sh_uw_rows)),
    pair(x_bot, join(dir_bb_sparse, dir_bb_rows)),
    pair(x_bot, join(mm_bb_sparse, mm_bb_rows)),
    pair(x_bot, join(sh_bb_sparse, sh_bb_rows)),
]

W, H = 1192, 702


def fx(px):
    return px / W


def fy(py):
    return 1 - py / H


col_px = [(92, 411), (474, 792), (857, 1175)]
row_px = [(34, 291), (371, 627)]
COLOR = "#4b5fa8"

fig = go.Figure()
for i, (xs, ys) in enumerate(series):
    k = i + 1
    fig.add_trace(go.Scatter(x=xs, y=ys, mode="markers",
                             marker=dict(size=7, color=COLOR, line=dict(width=0)),
                             xaxis="x" if k == 1 else f"x{k}",
                             yaxis="y" if k == 1 else f"y{k}",
                             showlegend=False, hoverinfo="x+y"))

axis_common = dict(showline=True, linecolor="black", linewidth=2, mirror="allticks",
                   ticks="inside", ticklen=4, tickwidth=1, tickcolor="black",
                   showgrid=False, zeroline=False, tickformat=".1f", automargin=False,
                   ticklabeloverflow="allow",
                   tickfont=dict(family="DejaVu Sans", size=11.5, color="black"))

annotations = []
for i in range(6):
    r, c = divmod(i, 3)
    k = i + 1
    x0, x1 = col_px[c]
    y0, y1 = row_px[r]
    xt = x_ticks_top if r == 0 else x_ticks_bottom
    yt = y_ticks_mm if c == 1 else y_ticks_small
    xname = "xaxis" if k == 1 else f"xaxis{k}"
    yname = "yaxis" if k == 1 else f"yaxis{k}"
    fig.update_layout(**{
        xname: dict(axis_common, domain=[fx(x0), fx(x1)], range=[xt[0], xt[-1]],
                    tickvals=xt, anchor="y" if k == 1 else f"y{k}"),
        yname: dict(axis_common, domain=[fy(y1), fy(y0)], range=[yt[0], yt[-1]],
                    tickvals=yt, anchor="x" if k == 1 else f"x{k}"),
    })
    try:
        fig.update_layout(**{yname: dict(ticklabelstandoff=-4)})
    except Exception:
        pass
    annotations.append(dict(text=titles[i], x=fx((x0 + x1) / 2), y=fy(y0 - 16),
                            xref="paper", yref="paper", xanchor="center", yanchor="middle",
                            showarrow=False,
                            font=dict(family="Liberation Sans, Arial", size=23.3, color="black")))

annotations.append(dict(text=x_label, x=fx(634), y=fy(684), xref="paper", yref="paper",
                        xanchor="center", yanchor="middle", showarrow=False,
                        font=dict(family="Liberation Sans, Arial", size=32.5, color="black")))
annotations.append(dict(text=y_label, x=fx(29), y=fy(330), xref="paper", yref="paper",
                        xanchor="center", yanchor="middle", showarrow=False, textangle=-90,
                        font=dict(family="Liberation Sans, Arial", size=32.5, color="black")))

fig.update_layout(width=W, height=H, margin=dict(l=0, r=0, t=0, b=0, autoexpand=False),
                  paper_bgcolor="white", plot_bgcolor="white",
                  annotations=annotations)

# remove the browser's default page margin so the figure sits at the window's corner
fig.write_html("out.html",
               config={"displayModeBar": False},
               post_script="document.body.style.margin='0';document.documentElement.style.overflow='hidden';")
